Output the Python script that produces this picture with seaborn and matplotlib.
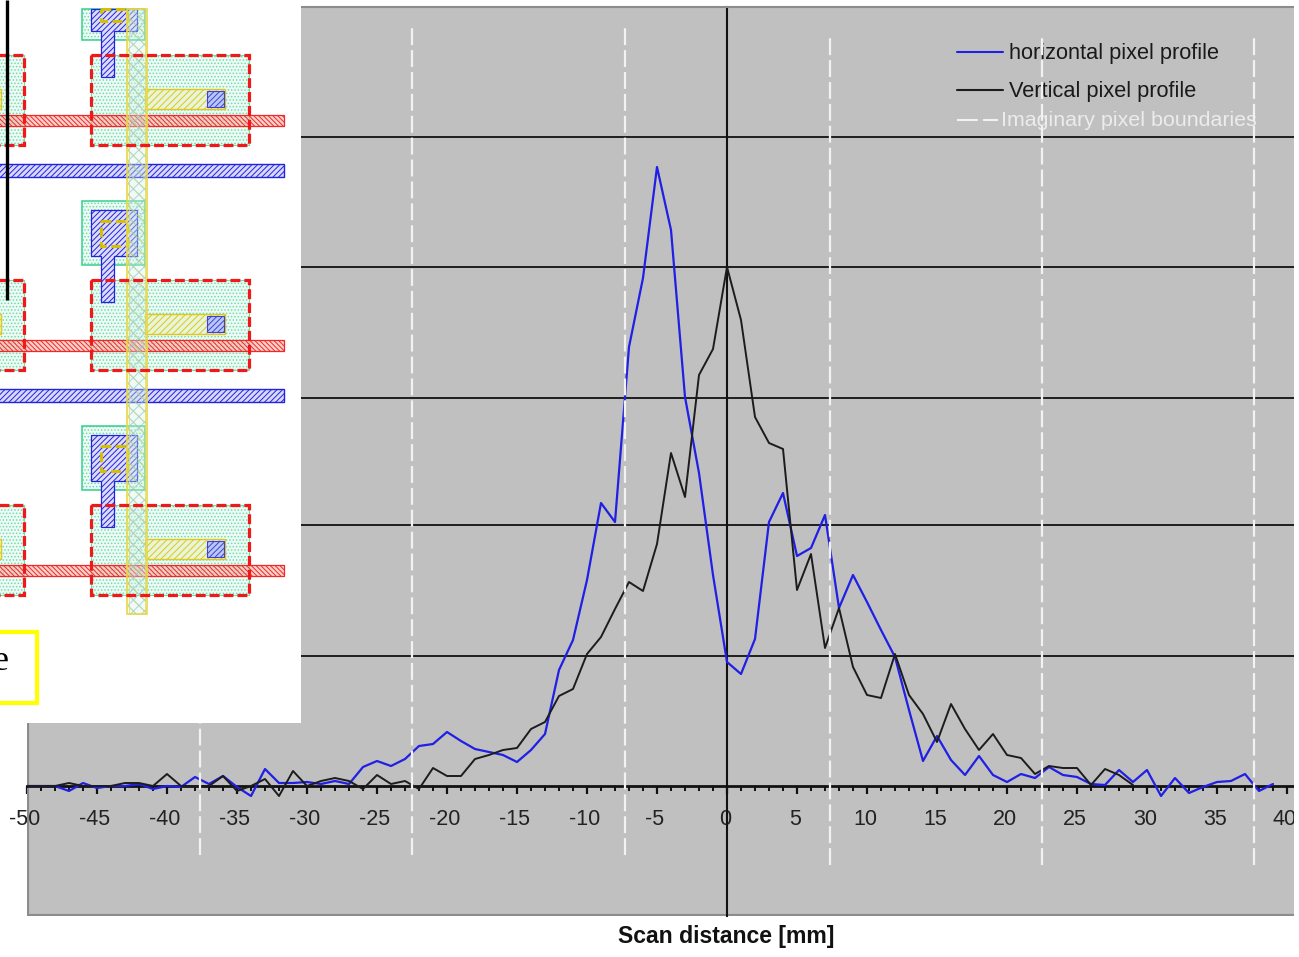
# %%
import numpy as np
import pandas as pd
import matplotlib
matplotlib.use("Agg")
from matplotlib import pyplot as plt
from matplotlib.patches import Rectangle, Polygon
from matplotlib.transforms import ScaledTranslation
import seaborn as sns

# data. y unit is arbitrary, the original has no y labels
scan_hor = np.arange(-50, 40)
profile_hor = [0, 0, 0, -5, 3, -2, 0, 0, 2, -3, 0, -1, 9, 2, 10, -1, -10, 17, 3, 3,
               4, 2, 5, 2, 19, 25, 20, 27, 40, 42, 54, 45, 37, 34, 31, 24, 36, 52, 116, 146,
               206, 283, 264, 439, 508, 619, 556, 389, 313, 211,
               124, 112, 147, 264, 293, 230, 238, 271, 178, 211, 184, 156, 129, 76, 25, 50, 26, 11, 30, 11,
               4, 12, 8, 19, 11, 9, 2, 1, 16, 4, 16, -10, 8, -7, -1, 4, 5, 12, -5, 2]
scan_ver = np.arange(-50, 30)
profile_ver = [0, 0, 0, 3, 0, 0, 0, 3, 3, 0, 12, 0, 0, 0, 10, -5, 0, 7, -10, 15,
               0, 5, 8, 5, -3, 11, 2, 5, -3, 18, 10, 10, 27, 31, 36, 38, 57, 64, 90, 97,
               132, 149, 177, 204, 195, 242, 333, 289, 411, 437,
               519, 466, 369, 343, 337, 196, 232, 138, 178, 119, 91, 88, 132, 91, 72, 44, 82, 57, 36, 52,
               31, 28, 12, 20, 18, 18, 1, 17, 11, 1]
grid_levels = [130, 261, 388, 519, 649]
major_ticks = [-50, -45, -40, -35, -30, -25, -20, -15, -10, -5, 0, 5, 10, 15, 20, 25, 30, 35, 40]
boundaries = [-37.64, -22.5, -7.3, 7.36, 22.5, 37.64]
boundary_tops = [600, 760, 760, 748, 748, 748]
boundary_bottoms = [-69, -69, -69, -79, -79, -79]

sns.set_style("white")
plt.rcParams['font.family'] = ['Liberation Sans', 'DejaVu Sans']
plt.rcParams['hatch.linewidth'] = 0.7

W, H = 1299, 957
fig = plt.figure(figsize=(W / 100, H / 100), dpi=100)
ax = fig.add_axes([27 / W, (H - 916) / H, (1294 - 27) / W, (916 - 7) / H], zorder=1)
ax.set_facecolor("#c0c0c0")
ax.set_xlim(-50, 40.5)
ax.set_ylim(-130, 779)

df_hor = pd.DataFrame({"scan": scan_hor, "value": profile_hor})
df_ver = pd.DataFrame({"scan": scan_ver, "value": profile_ver})
sns.lineplot(data=df_hor, x="scan", y="value", color="#1f1fe6", linewidth=1.6, ax=ax, zorder=3)
sns.lineplot(data=df_ver, x="scan", y="value", color="#1c1c1c", linewidth=1.4, ax=ax, zorder=4)

# axes cross at zero, frame is only a thin grey border
ax.spines["right"].set_visible(False)
ax.spines["bottom"].set_position(("data", 0))
ax.spines["left"].set_position(("data", 0))
ax.spines["bottom"].set_linewidth(2)
ax.spines["left"].set_linewidth(1.5)
ax.spines["bottom"].set_color("#111111")
ax.spines["left"].set_color("#111111")
ax.spines["top"].set_color("#8c8c8c")
ax.spines["top"].set_linewidth(1.5)
ax.axvline(-50, color="#8c8c8c", lw=3)
ax.axhline(-130, color="#8c8c8c", lw=3)

ax.set_yticks(grid_levels)
ax.set_yticklabels([])
ax.tick_params(axis="y", length=0)
ax.yaxis.grid(True, color="#111111", lw=1.3)
ax.xaxis.grid(False)
ax.set_axisbelow(True)

ax.set_xticks(major_ticks)
ax.set_xticklabels([str(t) for t in major_ticks])
ax.set_xticks(np.arange(-50, 41), minor=True)
ax.tick_params(axis="x", which="major", direction="out", length=6, width=1.6, color="#111111",
               pad=10.5, labelsize=15.5, labelcolor="#222222", bottom=True)
ax.tick_params(axis="x", which="minor", direction="out", length=3.5, width=1.4, color="#111111", bottom=True)
shift = ScaledTranslation(-2 / 100, 0, fig.dpi_scale_trans)
for lab in ax.get_xticklabels():
    lab.set_transform(lab.get_transform() + shift)
ax.set_xlabel("")
ax.set_ylabel("")

for xb, top, bot in zip(boundaries, boundary_tops, boundary_bottoms):
    ax.plot([xb, xb], [bot, top], color="#f2f2f2", lw=1.6, dashes=(7.6, 2.25), zorder=6)

# legend is placed by hand, its rows are not evenly spaced
def fy(py):
    return (H - py) / H

def legend_line(x0, x1, y, color, **kw):
    fig.add_artist(plt.Line2D([x0 / W, x1 / W], [fy(y), fy(y)], color=color, lw=1.5, zorder=2, **kw))

legend_line(957, 1003, 52, "#1f1fe6")
legend_line(957, 1003, 90, "#1c1c1c")
legend_line(957, 998, 120, "#f2f2f2", dashes=(10, 2.5))
ax.text((1001 - 727) / 14, 786 - 121, "Imaginary pixel boundaries", fontsize=15.4,
        color="#ececec", va="center", zorder=2)
ax.text((1009 - 727) / 14, 786 - 53, "horizontal pixel profile", fontsize=15.7, color="#1a1a1a", va="center", zorder=2)
ax.text((1009 - 727) / 14, 786 - 91, "Vertical pixel profile", fontsize=15.7, color="#1a1a1a", va="center", zorder=2)

fig.text(726 / W, fy(936), "Scan distance [mm]", fontsize=16.6, fontweight="bold", color="#111111",
         ha="center", va="center")

# white strip on the right cuts the "40" label as in the original
fig.add_artist(Rectangle((1294 / W, 0), 5 / W, 1, transform=fig.transFigure, facecolor="white",
                         edgecolor="none", zorder=5))

# %%
# pasted layout drawing at top left, in its own pixel coordinates
inset = fig.add_axes([0, (H - 723) / H, 301 / W, 723 / H], zorder=3)
inset.set_xlim(0, 301)
inset.set_ylim(723, 0)
inset.set_facecolor("white")
inset.set_xticks([])
inset.set_yticks([])
for s in inset.spines.values():
    s.set_visible(False)

GREEN = "#35cf8f"
DOTS = "#6fdcae"
BLUE = "#2222e0"
RED = "#f01818"
YEL = "#dcc81e"
TOP = 9
RED_DASH = (0, (3.1, 1.25))

def box(x0, x1, y0, y1, **kw):
    y0 = max(y0, TOP)
    inset.add_patch(Rectangle((x0, y0), x1 - x0, y1 - y0, **kw))

def cell(r, blue_bar):
    # active area
    box(91, 249, r, r + 90, facecolor="#eefbf4", edgecolor=DOTS, hatch=".....", lw=0.8, zorder=1)
    box(-5, 24, r, r + 90, facecolor="#eefbf4", edgecolor=DOTS, hatch=".....", lw=0.8, zorder=1)
    # photodiode green box
    box(82, 145, r - 79, r - 15, facecolor="#eefbf4", edgecolor=DOTS, hatch=".....", lw=0, zorder=1)
    box(82, 145, r - 79, r - 15, facecolor="none", edgecolor=GREEN, lw=1.1, zorder=1)
    # T shaped metal
    head_top = max(r - 70, TOP)
    pts = [(91, head_top), (137, head_top), (137, r - 24), (114, r - 24), (114, r + 22),
           (101, r + 22), (101, r - 24), (91, r - 24)]
    inset.add_patch(Polygon(pts, closed=True, facecolor="#dcdcfa", edgecolor=BLUE, hatch="//////", lw=0.9, zorder=2))
    # contact
    box(101, 127, r - 59, r - 34, facecolor="none", edgecolor="#d4bf00", lw=2.2, ls=(0, (3.2, 1.5)), zorder=3)
    # poly bar and via
    box(145, 225, r + 34, r + 54, facecolor="#e8f5d8", edgecolor=YEL, hatch="/////", lw=1, zorder=2)
    box(-5, 1, r + 34, r + 54, facecolor="#e8f5d8", edgecolor=YEL, hatch="/////", lw=1, zorder=2)
    box(207, 224, r + 36, r + 52, facecolor="#b8c8f0", edgecolor="#4040e0", hatch="//////", lw=0.8, zorder=3)
    # horizontal bars
    box(-5, 284, r + 60, r + 71, facecolor=(0.97, 0.7, 0.66, 0.6), edgecolor="#f02828", hatch="\\\\\\\\\\\\\\", lw=0.9, zorder=3)
    if blue_bar:
        box(-5, 284, r + 109, r + 122, facecolor="#d8d8fa", edgecolor=BLUE, hatch="//////", lw=1, zorder=3)
    # red dashed outlines
    box(91, 249, r, r + 90, facecolor="none", edgecolor=RED, lw=2.3, ls=RED_DASH, zorder=5)
    box(-5, 24, r, r + 90, facecolor="none", edgecolor=RED, lw=2.3, ls=RED_DASH, zorder=5)

for r, blue_bar in zip([55, 280, 504.5], [True, True, False]):
    cell(r, blue_bar)

# vertical column, see-through so the metal shows under it
box(128, 146, 9, 614, facecolor=(0.86, 0.95, 0.90, 0.35), edgecolor=(0.45, 0.78, 0.90, 0.65), hatch="xxx", lw=0, zorder=4)
box(128, 146, 9, 614, facecolor="none", edgecolor=(0.88, 0.82, 0.30, 0.55), hatch="\\\\\\", lw=0, zorder=4)
box(127, 147, 9, 614, facecolor="none", edgecolor="#e6d84a", lw=1.2, zorder=4)
box(129, 145, 9, 614, facecolor="none", edgecolor=(0.9, 0.85, 0.3, 0.7), lw=0.7, zorder=4)
inset.plot([7, 7], [0, 300], color="black", lw=2.4, zorder=6, solid_capstyle="butt")
# yellow label box, cut off at the left
box(-8, 37, 632, 703, facecolor="white", edgecolor="#ffff00", lw=3, zorder=6)
inset.text(9, 662, "e", fontsize=26, family=["Liberation Serif"], ha="right", va="center", color="black", zorder=7)

plt.savefig("out.png", dpi=100)
